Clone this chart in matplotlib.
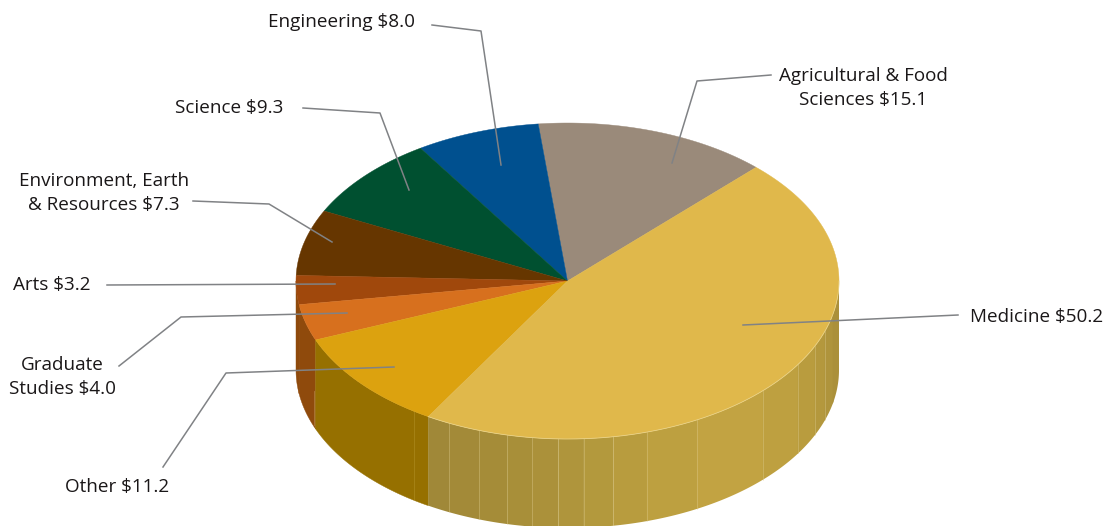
import numpy as np
import matplotlib
matplotlib.use('Agg')
import matplotlib.pyplot as plt

# Data (million $), counter-clockwise from the start angle
names = ['Agricultural & Food Sciences', 'Engineering', 'Science',
         'Environment, Earth & Resources', 'Arts', 'Graduate Studies',
         'Other', 'Medicine']
values = [15.1, 8.0, 9.3, 7.3, 3.2, 4.0, 11.2, 50.2]

top_colors = ['#9A8A7A', '#00508F', '#005030', '#663600', '#A0480C',
              '#D7701E', '#DCA20F', '#E0B84B']
side_colors = ['#7C6F62', '#003F70', '#003E26', '#4F2A00', '#8F4A0C',
               '#8F4A0C', '#967000', '#B39A3F']

# Pie geometry in pixels
cx, cy = 567.5, 281
rx, ry = 271.5, 158
depth = 89
start_angle = 46

# Facets on the side of the big slice
facet_x = [420, 449, 479, 507, 532, 558, 584, 613, 647, 697, 763, 798, 815, 825, 833, 840]
facet_colors = ['#A08838', '#A38A38', '#A58C38', '#A88F39', '#AB913A', '#AF953C',
                '#B3993D', '#B89C3E', '#BDA040', '#C2A342', '#BEA040', '#B99C3E',
                '#B4983D', '#AF943C', '#AB903A']

plt.rcParams['font.family'] = ['Open Sans', 'DejaVu Sans']
text_size = 13.6
line_color = '#808285'

fig = plt.figure(figsize=(11.09, 5.26), dpi=100)
ax = fig.add_axes([0, 0, 1, 1])
ax.set_xlim(0, 1109)
ax.set_ylim(526, 0)
ax.axis('off')


def rim(a1, a2):
    t = np.radians(np.linspace(a1, a2, 200))
    return cx + rx * np.cos(t), cy - ry * np.sin(t)


# Slice angles
edges = start_angle + np.cumsum([0] + values) / sum(values) * 360

# Side walls, only the front half can be seen
for i in range(len(values) - 1):
    lo, hi = max(edges[i], 180), min(edges[i + 1], 360)
    if hi <= lo:
        continue
    x, y = rim(lo, hi)
    ax.fill(np.r_[x, x[::-1]], np.r_[y, y[::-1] + depth], color=side_colors[i], lw=0.3, zorder=1)

# Big slice wall is drawn strip by strip
t_med = np.radians(np.linspace(edges[7], 360, 800))
xm = cx + rx * np.cos(t_med)
ym = cy - ry * np.sin(t_med)
for j in range(len(facet_colors)):
    mask = (xm >= facet_x[j] - 0.5) & (xm <= facet_x[j + 1] + 0.5)
    ax.fill(np.r_[xm[mask], xm[mask][::-1]], np.r_[ym[mask], ym[mask][::-1] + depth],
            color=facet_colors[j], lw=0, zorder=2)

# Pale lines between the facets
for fx in facet_x[1:-2]:
    fy = cy + ry * np.sqrt(1 - ((fx - cx) / rx) ** 2)
    ax.plot([fx, fx], [fy, fy + depth], color='#E4D49C', lw=0.6, alpha=0.4, zorder=3)
ax.plot([313.5, 313.5], [391, 425], color='#C9A86A', lw=0.6, alpha=0.5, zorder=3)
ax.plot([413.5, 413.5], [410, 499], color='#B89A30', lw=0.6, alpha=0.5, zorder=3)

# Top of the pie
for i in range(len(values)):
    x, y = rim(edges[i], edges[i + 1])
    ax.fill(np.r_[cx, x], np.r_[cy, y], color=top_colors[i], lw=0.3, zorder=4)

# Light edge along the front of the big slice
x, y = rim(edges[7], 360)
ax.plot(x, y, color='#EBD68F', lw=0.6, alpha=0.8, zorder=5)

# Leader lines
leaders = [
    [(771, 75), (697, 81), (672, 163)],
    [(432, 25), (481, 31), (501, 165)],
    [(303, 108), (380, 113), (409, 190)],
    [(193, 201), (269, 204), (332, 242)],
    [(107, 285), (335, 284)],
    [(119, 366), (181, 317), (347, 313)],
    [(163, 467), (226, 373), (394, 367)],
    [(958, 315), (743, 325)],
]
for pts in leaders:
    ax.plot([p[0] for p in pts], [p[1] for p in pts], color=line_color, lw=1.1, zorder=6)

# Labels, long names go on two lines
labels = [
    (863.5, 76, 'Agricultural & Food'),
    (863.5, 100, f'Sciences ${values[0]}'),
    (342, 22, f'Engineering ${values[1]}'),
    (229, 108, f'Science ${values[2]}'),
    (104, 181, 'Environment, Earth'),
    (104, 205, f'& Resources ${values[3]}'),
    (52, 285, f'Arts ${values[4]}'),
    (62.5, 365, 'Graduate'),
    (62.5, 389, f'Studies ${values[5]}'),
    (117.5, 487, f'Other ${values[6]}'),
    (1037, 317, f'Medicine ${values[7]}'),
]
for lx, ly, s in labels:
    ax.text(lx, ly, s, ha='center', va='center', fontsize=text_size, color='#1A1718',
            parse_math=False, zorder=7)

fig.savefig('out.png', dpi=100)
